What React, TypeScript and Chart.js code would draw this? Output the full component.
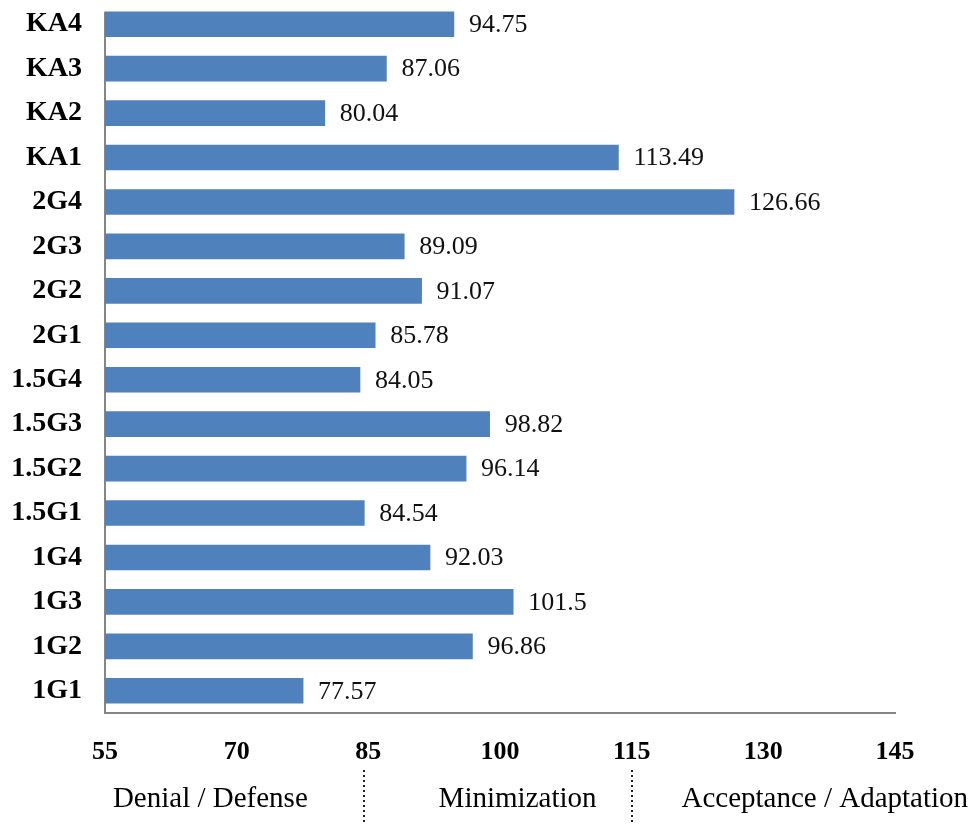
import React, { useEffect, useRef } from "react";
import { Chart, registerables } from "chart.js";

Chart.register(...registerables);

const categories = ["1G1", "1G2", "1G3", "1G4", "1.5G1", "1.5G2", "1.5G3", "1.5G4", "2G1", "2G2", "2G3", "2G4", "KA1", "KA2", "KA3", "KA4"];
const scores = [77.57, 96.86, 101.5, 92.03, 84.54, 96.14, 98.82, 84.05, 85.78, 91.07, 89.09, 126.66, 113.49, 80.04, 87.06, 94.75];
const xTickMin = 55;
const xTickMax = 145;
const xTickStep = 15;
const zoneLabels = ["Denial / Defense", "Minimization", "Acceptance / Adaptation"];
const zoneLabelCenters = [67, 102, 137];
const zoneBoundaries = [84.5, 115];

const SERIF = "'Liberation Serif', 'Times New Roman', serif";

const annotationsPlugin = {
  id: "annotations",
  beforeDatasetsDraw(chart: any) {
    // left axis line from top bar edge to the bottom axis
    const ctx = chart.ctx;
    const meta = chart.getDatasetMeta(0);
    const area = chart.chartArea;
    let topY = area.top;
    meta.data.forEach((el: any) => {
      const t = el.y - el.height / 2;
      if (t < topY || topY === area.top) topY = Math.min(topY === area.top ? t : topY, t);
    });
    ctx.save();
    ctx.strokeStyle = "#868686";
    ctx.lineWidth = 2;
    ctx.beginPath();
    ctx.moveTo(area.left, topY);
    ctx.lineTo(area.left, area.bottom);
    ctx.stroke();
    ctx.restore();
  },
  afterDatasetsDraw(chart: any) {
    const ctx = chart.ctx;
    const meta = chart.getDatasetMeta(0);
    ctx.save();
    ctx.font = `26px ${SERIF}`;
    ctx.fillStyle = "#111";
    ctx.textAlign = "left";
    ctx.textBaseline = "middle";
    meta.data.forEach((el: any, i: number) => {
      ctx.fillText(String(scores[i]), el.x + 15, el.y + 1);
    });
    ctx.restore();
  },
  afterDraw(chart: any) {
    const ctx = chart.ctx;
    const xs = chart.scales.x;
    ctx.save();
    ctx.font = `29px ${SERIF}`;
    ctx.fillStyle = "#000";
    ctx.textAlign = "center";
    ctx.textBaseline = "middle";
    zoneLabels.forEach((t, i) => {
      ctx.fillText(t, xs.getPixelForValue(zoneLabelCenters[i]), 799);
    });
    ctx.strokeStyle = "#222";
    ctx.lineWidth = 2;
    ctx.setLineDash([2, 3]);
    zoneBoundaries.forEach((v) => {
      const x = Math.round(xs.getPixelForValue(v));
      ctx.beginPath();
      ctx.moveTo(x, 770);
      ctx.lineTo(x, 825);
      ctx.stroke();
    });
    ctx.restore();
  },
};

export default function App() {
  const ref = useRef<HTMLCanvasElement>(null);
  useEffect(() => {
    document.body.style.margin = "0";
    const chart = new Chart(ref.current as HTMLCanvasElement, {
      type: "bar",
      data: {
        labels: categories,
        datasets: [
          {
            data: scores,
            backgroundColor: "#4F81BD",
            barThickness: 25,
          },
        ],
      },
      options: {
        indexAxis: "y",
        animation: false,
        responsive: false,
        maintainAspectRatio: false,
        layout: { padding: { top: 2, right: 77, bottom: 0, left: 0 } },
        plugins: { legend: { display: false }, tooltip: { enabled: false } },
        scales: {
          x: {
            min: xTickMin,
            max: xTickMax,
            grid: { display: false, drawTicks: false },
            border: { display: true, color: "#868686", width: 2 },
            ticks: {
              stepSize: xTickStep,
              padding: 24,
              color: "#000",
              font: { family: SERIF, size: 26, weight: "bold" },
            },
            afterFit(scale: any) {
              scale.height = 112;
              scale.paddingLeft = 0;
              scale.paddingRight = 0;
            },
          },
          y: {
            reverse: true,
            grid: { display: false, drawTicks: false },
            border: { display: false },
            ticks: {
              padding: 23,
              color: "#000",
              font: { family: SERIF, size: 28, weight: "bold" },
            },
            afterFit(scale: any) {
              scale.width = 105;
              scale.paddingTop = 0;
              scale.paddingBottom = 0;
            },
          },
        },
      } as any,
      plugins: [annotationsPlugin],
    });
    return () => chart.destroy();
  }, []);
  return (
    <div style={{ width: 972, height: 825, overflow: "hidden", background: "#fff" }}>
      <canvas ref={ref} width={972} height={825} style={{ display: "block" }} />
    </div>
  );
}
